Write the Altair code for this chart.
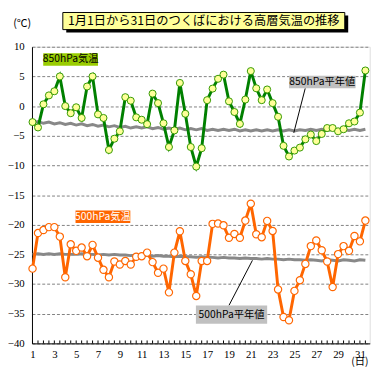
import altair as alt
import pandas as pd

# observation index: twice a day (09 & 21 JST), day 1.0 .. 31.5
obs_day = [1 + 0.5 * i for i in range(62)]

t850 = [-2.7, -3.6, 0.3, 1.8, 2.5, 5.0, 0.0, -1.2, -0.2, -2.0,
        3.3, 5.0, -1.4, -2.0, -7.4, -5.5, -4.25, 1.5, 0.9, -1.9,
        -2.3, -3.05, 2.1, 0.5, -2.9, -6.9, -4.1, 3.9, -1.3, -6.9,
        -10.2, -7.1, 1.0, 2.95, 4.6, 5.3, 0.8, -1.0, -3.0, 1.1,
        5.9, 3.0, 1.0, 2.8, 0.5, -1.8, -6.7, -8.5, -7.5, -7.0,
        -5.6, -4.8, -5.9, -4.7, -3.7, -3.7, -4.25, -3.9, -2.9, -2.6,
        -1.1, 6.0]

t500 = [-27.4, -21.4, -20.9, -20.4, -20.4, -22.0, -28.85, -23.3, -24.4, -23.85,
        -25.3, -23.4, -25.55, -27.6, -28.85, -26.2, -26.7, -26.1, -26.7, -25.4,
        -25.3, -24.7, -26.3, -28.1, -27.4, -31.4, -24.7, -21.1, -26.1, -28.35,
        -32.0, -26.1, -26.1, -19.85, -19.8, -20.1, -22.2, -21.55, -22.2, -19.3,
        -16.45, -21.6, -22.1, -19.35, -21.05, -30.9, -35.55, -36.1, -31.15, -29.35,
        -26.6, -23.6, -22.65, -24.3, -26.2, -30.5, -24.95, -23.6, -24.4, -21.9,
        -22.8, -19.3]

n850 = [-2.8, -2.6, -2.9, -2.7, -3.0, -2.8, -3.1, -2.9, -3.2, -3.0,
        -3.3, -3.1, -3.4, -3.2, -3.5, -3.3, -3.6, -3.4, -3.7, -3.5,
        -3.7, -3.5, -3.8, -3.6, -3.9, -3.7, -3.9, -3.7, -4.0, -3.8,
        -4.0, -3.8, -4.1, -3.9, -4.1, -3.9, -4.1, -3.9, -4.2, -4.0,
        -4.2, -4.0, -4.2, -4.0, -4.2, -4.0, -4.2, -4.0, -4.2, -4.0,
        -4.1, -3.9, -4.1, -3.9, -4.1, -3.9, -4.1, -3.9, -4.1, -3.9,
        -4.1, -3.9]

n500 = [-25.0, -24.9, -25.0, -24.9, -25.0, -24.9, -25.0, -25.0, -25.0, -24.9,
        -25.0, -25.0, -25.1, -25.0, -25.1, -25.0, -25.1, -25.1, -25.2, -25.1,
        -25.2, -25.2, -25.3, -25.2, -25.3, -25.3, -25.4, -25.3, -25.4, -25.4,
        -25.5, -25.4, -25.5, -25.5, -25.6, -25.5, -25.6, -25.6, -25.7, -25.6,
        -25.7, -25.7, -25.8, -25.7, -25.8, -25.8, -25.9, -25.8, -25.9, -25.9,
        -26.0, -25.9, -26.0, -26.1, -25.9, -26.0, -26.1, -25.9, -26.0, -26.1,
        -25.9, -26.0]

x_labels = list(range(1, 32, 2))
y_ticks = list(range(-40, 11, 5))

title_text = "1月1日から31日のつくばにおける高層気温の推移"

label_text = ["850hPa気温", "500hPa気温", "850hPa平年値", "500hPa平年値"]
label_x1 = [1.98, 4.94, 24.5, 15.97]
label_x2 = [7.0, 9.96, 30.6, 22.5]
label_y1 = [6.8, -19.7, 3.0, -36.7]
label_y2 = [8.9, -17.6, 5.1, -33.6]
label_bg = ["#99cc00", "#ff6600", "#c0c0c0", "#c0c0c0"]
label_fg = ["#000000", "#ffffff", "#000000", "#000000"]

leader_x1 = [25.99, 19.0]
leader_y1 = [3.0, -33.6]
leader_x2 = [24.94, 21.15]
leader_y2 = [-4.5, -26.0]

W, H = 345, 303

df = pd.DataFrame({"d": obs_day, "t850": t850, "t500": t500,
                   "n850": n850, "n500": n500})
lab = pd.DataFrame({"text": label_text, "x1": label_x1, "x2": label_x2,
                    "y1": label_y1, "y2": label_y2, "bg": label_bg, "fg": label_fg})
lab["xc"] = (lab["x1"] + lab["x2"]) / 2
lab["yc"] = (lab["y1"] + lab["y2"]) / 2
lead = pd.DataFrame({"x1": leader_x1, "y1": leader_y1, "x2": leader_x2, "y2": leader_y2})
one = pd.DataFrame({"t": [title_text]})

xs = alt.Scale(domain=[0.95, 31.9], nice=False, zero=False)
ys = alt.Scale(domain=[-40, 10], nice=False, zero=False)
xaxis = alt.Axis(values=x_labels, title=None, grid=False, ticks=False,
                 domainColor="black", labelFont="Liberation Serif", labelFontSize=11,
                 labelColor="black", labelPadding=5, labelFlush=False, labelOverlap=False)
yaxis = alt.Axis(values=y_ticks, title=None, grid=True, gridDash=[3, 2],
                 gridColor="#808080", ticks=False, domainColor="black",
                 labelFont="Liberation Serif", labelFontSize=11, labelColor="black",
                 labelPadding=8)


def X(f):
    return alt.X(f, type="quantitative", scale=xs, axis=xaxis)


def Y(f):
    return alt.Y(f, type="quantitative", scale=ys, axis=yaxis)


base = alt.Chart(df)

minor_ticks = base.mark_rule(color="black", strokeWidth=1).encode(
    x=X("d"), y=alt.value(H), y2=alt.value(H - 3))

norm850 = base.mark_line(color="#888888", strokeWidth=3).encode(x=X("d"), y=Y("n850"))
norm500 = base.mark_line(color="#888888", strokeWidth=3).encode(x=X("d"), y=Y("n500"))

line850 = base.mark_line(color="#008000", strokeWidth=3).encode(x=X("d"), y=Y("t850"))
pts850 = base.mark_circle(size=52, fill="#ffff99", stroke="#339900",
                          strokeWidth=1, opacity=1).encode(x=X("d"), y=Y("t850"))

line500 = base.mark_line(color="#ff6600", strokeWidth=3).encode(x=X("d"), y=Y("t500"))
pts500 = base.mark_circle(size=55, fill="#ffffff", stroke="#ff6600",
                          strokeWidth=1.2, opacity=1).encode(x=X("d"), y=Y("t500"))

leaders = alt.Chart(lead).mark_rule(color="black", strokeWidth=1).encode(
    x=X("x1"), y=Y("y1"), x2="x2", y2="y2")

boxes = alt.Chart(lab).mark_rect().encode(
    x=X("x1"), x2="x2", y=Y("y1"), y2="y2",
    fill=alt.Fill("bg:N", scale=None))
texts = alt.Chart(lab).mark_text(font="Noto Sans CJK JP", fontSize=10.5,
                                 align="center", baseline="middle").encode(
    x=X("xc"), y=Y("yc"), text="text:N", color=alt.Color("fg:N", scale=None))

title_shadow = alt.Chart(one).mark_rect(fill="black").encode(
    x=alt.value(35), x2=alt.value(323), y=alt.value(-32), y2=alt.value(-14.5))
title_box = alt.Chart(one).mark_rect(fill="#ffff99", stroke="black", strokeWidth=1).encode(
    x=alt.value(31.5), x2=alt.value(319.5), y=alt.value(-35), y2=alt.value(-17.5))
title_txt = alt.Chart(one).mark_text(font="Noto Sans CJK JP", fontSize=12.5,
                                     align="center", baseline="middle", color="black").encode(
    x=alt.value(175.5), y=alt.value(-26), text="t:N")

unit_c = alt.Chart(one).mark_text(font="Noto Sans CJK JP", fontSize=11,
                                  align="center", baseline="middle", color="black").encode(
    x=alt.value(-10), y=alt.value(-23.5), text=alt.value("(℃)"))
unit_d = alt.Chart(one).mark_text(font="Noto Sans CJK JP", fontSize=10.5,
                                  align="center", baseline="middle", color="black").encode(
    x=alt.value(335), y=alt.value(322.5), text=alt.value("(日)"))

chart = alt.layer(
    norm850, norm500, minor_ticks,
    line850, pts850, line500, pts500,
    leaders, boxes, texts,
    title_shadow, title_box, title_txt, unit_c, unit_d
).properties(
    width=W, height=H,
    autosize=alt.AutoSizeParams(type="none"),
    padding={"left": 24.5, "top": 35.5, "right": 11.5, "bottom": 42.5},
).configure_view(stroke="#808080", strokeWidth=1).configure(background="white")

chart.save("out.html", embed_options={"renderer": "svg", "actions": False})
